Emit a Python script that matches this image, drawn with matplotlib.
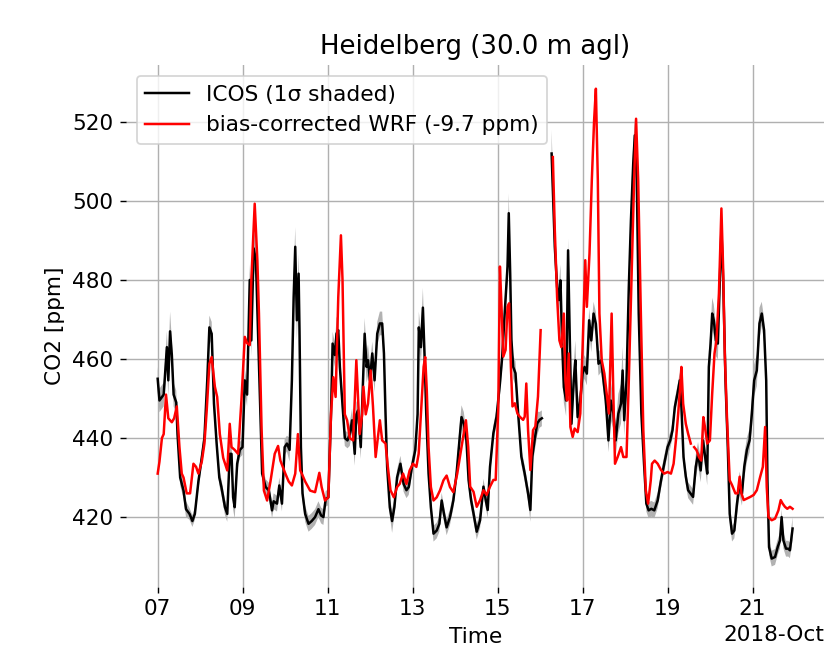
import numpy as np
import pandas as pd
import matplotlib
matplotlib.use("Agg")
import matplotlib.pyplot as plt
import matplotlib.dates as mdates

start = pd.Timestamp("2018-10-07 00:00")
nan = np.nan

# ICOS observations (10 values per line): hours since start, CO2 [ppm], 1 sigma
icos_hours = [
    0, 1, 3.4, 5.2, 6, 7, 8, 9, 10.5, 11.2,
    12.7, 14.6, 16, 18, 19.6, 21, 23, 24.9, 26.4, 28,
    29.2, 30.5, 31.8, 33.3, 34.8, 36, 38, 39.3, 40.7, 41.7,
    42.6, 43.5, 44.9, 46.4, 47.9, 49.2, 50.5, 52, 52.9, 54.2,
    55.5, 57, 59, 61, 62.8, 64.6, 65.5, 67.4, 68.7, 70.2,
    71.7, 73, 74.5, 75.8, 76.8, 77.7, 78.6, 79.6, 80.1, 80.9,
    81.8, 83.3, 85.2, 87, 88.9, 90.8, 92.3, 93.6, 94.9, 96.4,
    97.9, 98.8, 100.1, 101, 102, 102.9, 104.2, 105.7, 107.2, 108.5,
    109.8, 111.3, 112.2, 113.2, 114.7, 116.9, 118, 118.8, 119.9, 121.2,
    122.5, 124, 125.5, 126.8, 127.8, 128.7, 129.6, 131.1, 132.4, 133.7,
    135.2, 137.1, 138.9, 140.5, 141.8, 143.6, 145.5, 146.8, 147.5, 148.7,
    149.8, 150.7, 151.7, 153, 154.3, 155.8, 157.6, 159.1, 160.4, 161.7,
    163.2, 165.1, 167, 168.8, 170.1, 171.6, 172.9, 174.4, 175.6, 177,
    178.4, 180.2, 182.1, 184, 185.3, 186.4, 187.7, 189.6, 191.4, 193.3,
    194.6, 196.1, 197.6, 198.3, 199.1, 199.8, 200.8, 202.1, 203.6, 205.4,
    207.3, 209.2, 210.5, 211.6, 212.9, 214.4, 215.7, 217, 219.5, 222.5,
    223.2, 224.3, 225.6, 226.6, 227.5, 228.4, 229.4, 230.7, 231.8, 232.5,
    233.7, 235, 235.9, 237.2, 238.7, 240, 241.1, 242.4, 243.7, 244.9,
    246.2, 247.5, 249, 250.5, 251.8, 253.1, 254.6, 255.9, 257.4, 258.7,
    260.2, 261.7, 262.6, 263.5, 264.8, 266.1, 267.3, 268.6, 269.5, 270.6,
    271.7, 273.2, 274.7, 276, 277.3, 278.8, 280.5, 282.4, 284.3, 286.1,
    288, 289.5, 290.8, 292.1, 293.6, 294.9, 295.8, 297, 298.3, 299.6,
    301.1, 302.4, 303.9, 305.2, 306.7, 308, 309.5, 310.4, 311.3, 312.3,
    313.2, 314.1, 315.3, 316.4, 317.5, 318.4, 319.4, 320.7, 322, 323.1,
    324.4, 325.7, 327.2, 328.7, 330, 331.3, 332.8, 334.3, 335.6, 336.9,
    338.4, 339.9, 341.2, 342.5, 343.7, 344.4, 345.3, 346.8, 348.7, 350.2,
    351.5, 352.4, 353.4, 354.9, 356.2, 357.1, 358.6]
icos_co2 = [
    455.0, 449.5, 451, 463, 454.6, 467, 461, 451, 449, 441,
    430, 426.7, 422, 420.8, 419, 420.8, 429, 435, 440, 454.6,
    468, 466.4, 448.7, 438.6, 430, 427.6, 422.5, 420.8, 436, 436,
    425, 422.5, 433.5, 437, 437.7, 454.6, 451, 480, 464.7, 488,
    485, 462, 431, 427.6, 426.7, 421.7, 424, 423.4, 428, 423.4,
    437.7, 438.6, 437, 454.6, 475.7, 488.4, 469.8, 481.6, 467.3, 437.7,
    426, 420.8, 418.3, 419, 420, 422, 420.4, 420, 424.6, 425,
    446, 463.9, 461, 466.4, 467.3, 458, 449.5, 440, 439.4, 441,
    444.5, 436, 446, 447, 437.7, 466.4, 458, 459.7, 454.6, 461.4,
    454.6, 466.4, 469, 469, 461.4, 446, 432.7, 422.5, 419, 422.5,
    430, 433.5, 428.4, 426.8, 427.6, 432.7, 437, 446, 468, 463,
    473, 461.4, 446, 431, 422.5, 415.8, 416.6, 418.3, 424.2, 420.8,
    417.4, 420, 424.2, 431, 437.7, 445.3, 443.6, 439.4, 429.4, 424.3,
    420.9, 416.3, 419.2, 427.7, 424.3, 421.8, 432.7, 441.2, 445.4, 453.8,
    460.6, 472.4, 483.4, 496.9, 481.7, 464.8, 458, 456.4, 446.2, 435.3,
    431, 426, 421.8, 435.3, 439.5, 443.7, 444.6, 445, nan, 512,
    502.7, 488.4, 478.2, 474.9, 479.9, 464.7, 452.9, 449.5, 487.5, 471.5,
    443.6, 454.6, 459.7, 445.3, 449.5, 456.3, 458, 456.3, 469.8, 464.7,
    471.5, 468.9, 458.8, 459.7, 454.6, 449.5, 439.4, 449.5, 446.2, 439.4,
    446.2, 448.7, 457.1, 444.5, 454.6, 478.2, 495.1, 509.5, 516.6, 505.2,
    471.5, 446.2, 433.5, 423.4, 421.7, 422.1, 421.7, 424.2, 429.3, 433.5,
    437.7, 439.4, 442, 447.9, 451.3, 454.6, 447.9, 435.2, 430.2, 426.8,
    425.9, 425.1, 432.7, 436, 431.8, 439.4, 434.3, 431, 458, 463.9,
    471.5, 469.8, 464.7, 463.9, 480, 492.7, 480, 454.6, 437.7, 420.8,
    415.8, 416.6, 423.4, 428.5, 425.9, 432.7, 437, 439.4, 446.2, 454.6,
    457.1, 469, 471.5, 467.3, 454.6, 429.3, 412.4, 409.5, 409.9, 412.4,
    414.1, 420, 414.1, 412, 412, 411.6, 417.1]
icos_sd = [
    3, 3, 3, 4, 4, 5, 4, 3, 3, 2,
    2, 2, 2, 1.5, 1.5, 1.5, 2, 2, 2, 3,
    3, 3, 3, 2, 2, 2, 2, 2, 3, 3,
    3, 3, 2, 2, 2, 3, 3, 4, 4, 5,
    5, 4, 2, 2, 2, 2, 2, 2, 2, 2,
    2, 2, 3, 4, 5, 5, 5, 5, 4, 3,
    2, 2, 2, 2, 2, 2, 2, 2, 2, 2,
    3, 3, 3, 4, 4, 3, 3, 2, 2, 3,
    3, 3, 3, 3, 3, 4, 4, 4, 4, 3,
    3, 3, 3, 3, 3, 3, 2, 2, 3, 2,
    2, 2, 2, 2, 2, 2, 2, 3, 4, 4,
    5, 4, 3, 2, 2, 2, 2, 2, 2, 2,
    2, 2, 2, 2, 3, 3, 3, 2, 2, 2,
    2, 2, 2, 2, 2, 2, 2, 2, 2, 3,
    3, 3, 4, 5, 4, 3, 3, 3, 2, 2,
    2, 2, 3, 3, 3, 3, 2, 2, nan, 6,
    5, 4, 4, 4, 4, 4, 4, 4, 3, 4,
    4, 4, 5, 4, 3, 3, 3, 3, 3, 3,
    3, 3, 3, 3, 3, 3, 3, 5, 4, 4,
    5, 5, 6, 4, 4, 4, 5, 5, 4, 4,
    3, 3, 2, 2, 2, 2, 2, 2, 2, 2,
    2, 2, 2, 2, 2, 2, 2, 2, 2, 2,
    2, 2, 3, 3, 3, 3, 3, 3, 4, 4,
    4, 4, 4, 4, 4, 4, 4, 3, 3, 2,
    2, 2, 3, 3, 3, 3, 3, 3, 4, 4,
    4, 4, 3, 3, 3, 2, 2, 2, 2, 2,
    2, 2, 2, 2, 2, 2, 3]

# bias-corrected WRF (10 values per line): hours since start, CO2 [ppm]
wrf_hours = [
    0, 1, 2.4, 3.4, 4.7, 6, 8, 9.3, 10.8, 12.3,
    13.6, 14.6, 16.4, 18.3, 20.2, 21.7, 23, 24.9, 26.4, 27.7,
    29.2, 30.5, 32.3, 33.6, 35.1, 37, 39.3, 40.7, 41.7, 43.5,
    45.4, 47.3, 49.2, 50.5, 52, 52.9, 54.8, 56.3, 57.2, 58.7,
    60, 61.8, 63.7, 66.1, 68, 69.3, 72.1, 74, 75.8, 77.7,
    79.2, 80.5, 81.4, 83.3, 86.1, 88.9, 91.3, 92.6, 94.5, 96.4,
    97.9, 99.2, 100.5, 102, 103.5, 104.4, 105.7, 107, 108.5, 110.4,
    112.2, 114.1, 115.5, 116.2, 117.5, 118.8, 120.3, 121.6, 123.1, 124.4,
    125.5, 126.8, 128.7, 130, 131.5, 133.4, 135.2, 136.7, 138.6, 140.5,
    142.3, 144.2, 146.1, 147.4, 148.7, 150.2, 151.1, 152, 153, 154.3,
    155.8, 157.6, 159.5, 161.4, 163.2, 165.1, 167, 169.2, 171.6, 174.1,
    175.4, 176.5, 178.4, 180.2, 182.1, 184, 185.8, 187.7, 189.6, 190.9,
    192.4, 193.3, 194.2, 195.2, 196.5, 197.6, 198.5, 199.5, 200.4, 201.7,
    203.2, 204.5, 206.4, 207.3, 208.2, 209.2, 210.5, 212, 213.3, 214.8,
    216.3, 219.5, 223.2, 224.3, 225.6, 226.9, 228, 229.4, 230.3, 231.2,
    232.2, 233.1, 234.4, 235.5, 237.2, 238.7, 240, 241.5, 242.4, 243.9,
    245.2, 246.5, 247.5, 248.6, 249.5, 250.8, 252.3, 253.6, 254.9, 256.4,
    257.4, 258.3, 259.8, 261.7, 263, 264.8, 266.1, 267.6, 269.1, 270.2,
    271.4, 272.9, 274.3, 275.7, 277, 278.5, 279.2, 280.7, 282.4, 284.3,
    286.1, 288, 289.9, 291.4, 292.7, 294, 295.1, 295.8, 296.8, 298.3,
    299.6, 301.1, 302, 303, 304.4, 305.7, 307, 308.2, 309.1, 310.4,
    311.9, 313.2, 314.5, 315.6, 317, 317.9, 318.4, 319.4, 320.3, 321.6,
    323.1, 324.4, 326.3, 327.6, 328.7, 329.7, 331, 332.8, 334.7, 336.6,
    338.4, 340.3, 341.8, 343.1, 344, 345, 346.8, 348.7, 350.6, 351.9,
    353, 354.3, 355.6, 357.1, 358.6]
wrf_co2 = [
    431, 434, 440, 441, 451, 445, 444, 445, 448, 437.7,
    431, 430, 426, 426, 433.5, 432.7, 431, 434, 438.6, 447,
    458.8, 460.5, 453, 450.4, 441, 435, 431.8, 443.6, 437.7, 437,
    436, 449.5, 465.6, 464, 463.5, 480, 499.3, 485, 471.5, 442,
    426.7, 424.2, 429, 436, 438, 434.3, 431, 429, 428, 431,
    441, 431.8, 431, 429, 426.7, 426.3, 431.2, 427.6, 424.2, 425,
    446, 455.4, 450.4, 475.7, 491.3, 480, 446, 444.5, 440, 439.4,
    459.7, 441, 446, 453, 446, 448.7, 457.1, 448, 435.2, 440.3,
    444.5, 439.4, 438.6, 432.7, 426.8, 425, 427.6, 428.4, 431, 428.4,
    431.8, 433.5, 432.7, 436, 446, 458, 460.5, 452, 437.7, 427.6,
    424.2, 425, 426.8, 429.3, 430.5, 427.6, 426.3, 431, 437.7, 444.5,
    437.7, 427.7, 426.4, 422.6, 424.3, 426.8, 425.6, 427.7, 429.4, 429.4,
    448, 483.4, 473.2, 460.6, 462.3, 473.2, 474.1, 458, 448, 448.8,
    446.2, 445.4, 444.6, 445.4, 453.8, 442, 431.9, 442, 442.9, 450.5,
    467.3, nan, 511.1, 492.6, 475.7, 464.7, 463, 471.5, 454.6, 449.5,
    461.4, 442.8, 440.3, 442.4, 441.5, 446.2, 463, 485, 473.2, 486.7,
    505.2, 520.4, 528.4, 505.2, 471.5, 459.7, 456.3, 451.2, 446.2, 471.5,
    450.4, 433.5, 435.2, 437.7, 435.2, 435.2, 454.6, 479.9, 505.2, 520.8,
    505.2, 471.5, 442, 426.8, 423.4, 429.3, 433.5, 434.3, 433.5, 431.9,
    431, 431.4, 431, 433.5, 439.4, 446.2, 452.9, 458, 448.7, 443.6,
    441.1, 438.6, nan, 437.7, 436.9, 435.2, 434.3, 445.3, 442.8, 438.6,
    439.4, 451.3, 461.4, 464.7, 476.6, 490.1, 498.1, 482.5, 461.4, 444.5,
    429.3, 428.1, 426, 426, 430.2, 426, 424.3, 424.7, 425.1, 425.6,
    426.8, 430.2, 432.7, 442.8, 427.6, 420, 419.2, 419.6, 421.7, 424.3,
    423.4, 422.6, 422.1, 422.6, 422.1]

icos_time = start + pd.to_timedelta(icos_hours, unit="h")
wrf_time = start + pd.to_timedelta(wrf_hours, unit="h")
icos_co2 = np.array(icos_co2, dtype=float)
icos_sd = np.array(icos_sd, dtype=float)
wrf_co2 = np.array(wrf_co2, dtype=float)

plt.rcParams["font.size"] = 12.2
fig = plt.figure(figsize=(834 / 128, 648 / 128), dpi=128)
ax = fig.add_axes([0.151, 0.0941, 0.8374, 0.8056])

ax.fill_between(icos_time, icos_co2 - icos_sd, icos_co2 + icos_sd, color="k", alpha=0.3, lw=0)
ax.plot(icos_time, icos_co2, color="k", lw=1.4, label="ICOS (1\u03c3 shaded)")
ax.plot(wrf_time, wrf_co2, color="red", lw=1.4, label="bias-corrected WRF (-9.7 ppm)")

locator = mdates.DayLocator(bymonthday=range(1, 32, 2))
ax.xaxis.set_major_locator(locator)
ax.xaxis.set_major_formatter(mdates.ConciseDateFormatter(locator))
ax.set_ylim(402.3, 534.4)

ax.grid(True)
for s in ax.spines.values():
    s.set_visible(False)
ax.set_xlabel("Time")
ax.set_ylabel("CO2 [ppm]")
ax.set_title("Heidelberg (30.0 m agl)")
ax.legend(loc="upper left")

fig.savefig("out.png", dpi=128)
